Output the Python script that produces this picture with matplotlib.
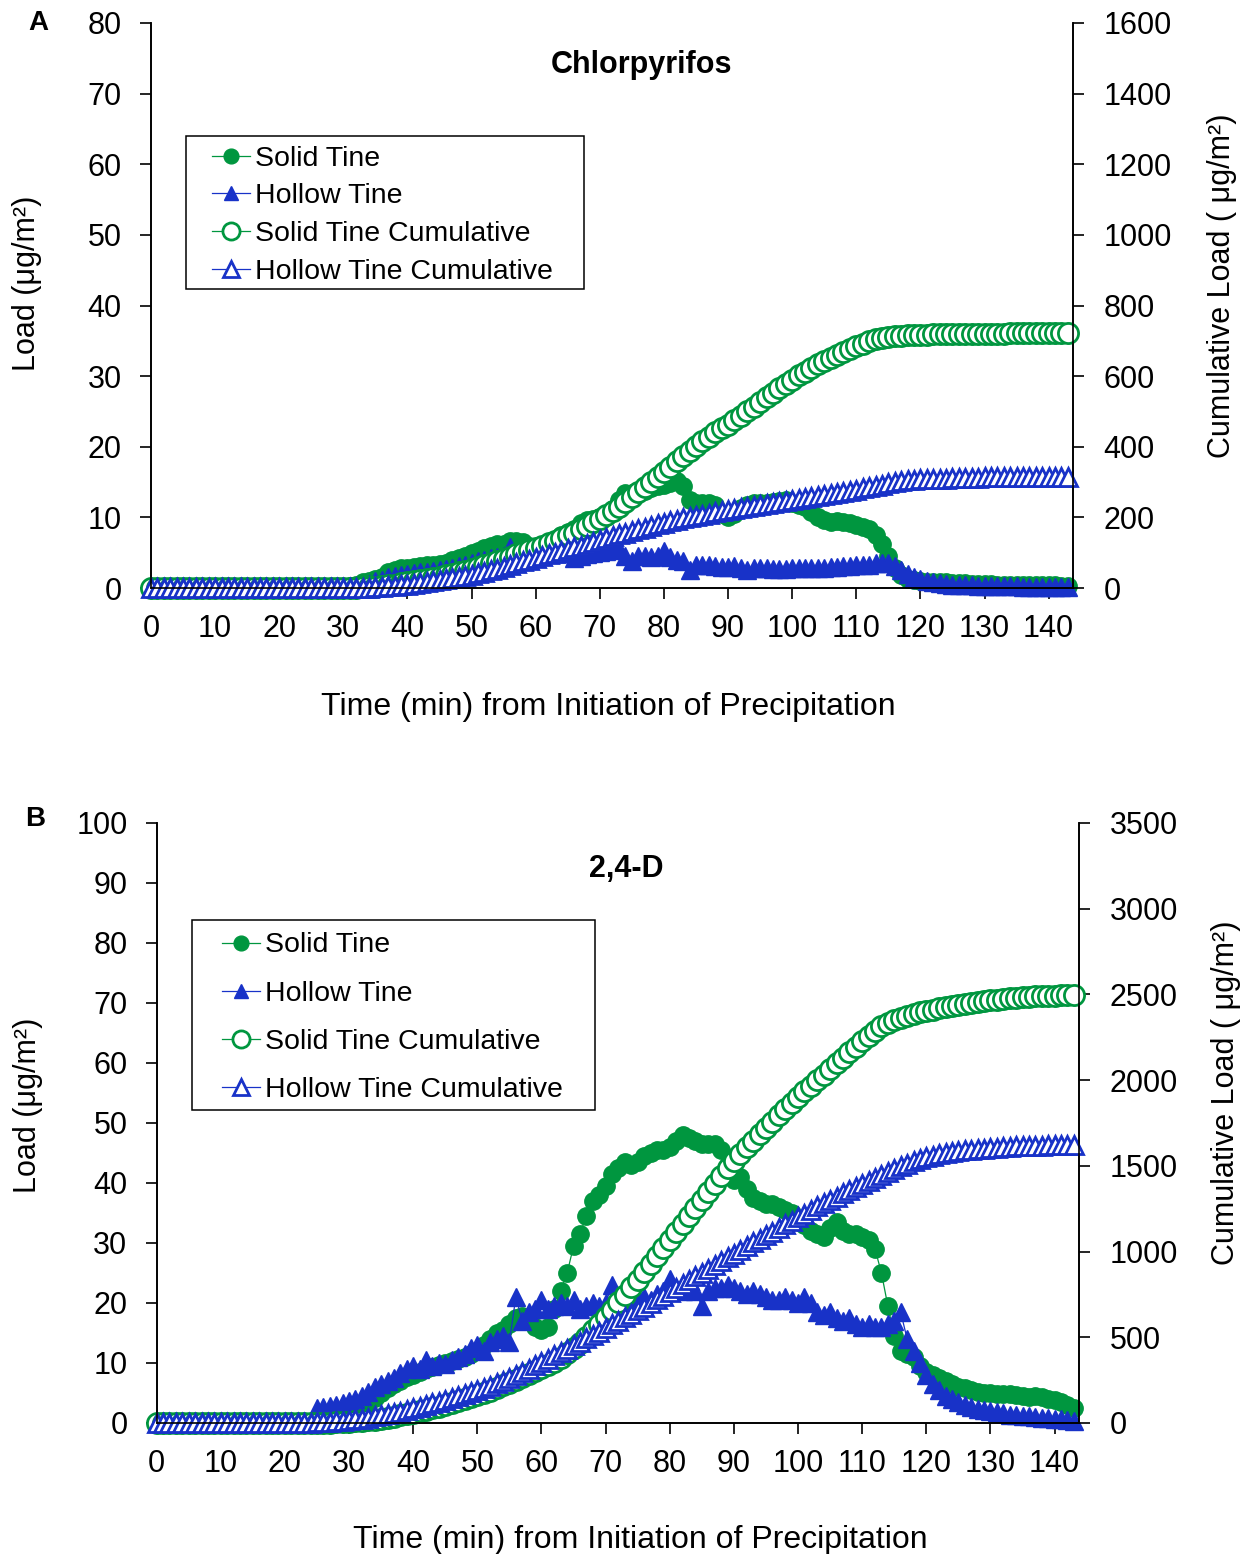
import matplotlib
matplotlib.use('Agg')
import matplotlib.pyplot as plt
from matplotlib.patches import Rectangle

plt.rcParams['font.family'] = ['Liberation Sans', 'DejaVu Sans']

# time (min) from initiation of precipitation, one reading per minute
time = list(range(144))

# ---- panel A : Chlorpyrifos ----
chl_solid = [0, 0, 0, 0, 0, 0, 0, 0, 0, 0,
             0, 0, 0, 0, 0, 0, 0, 0, 0, 0,
             0, 0, 0, 0, 0, 0, 0, 0, 0, 0,
             0.2, 0.3, 0.5, 0.8, 1.0, 1.3, 1.6, 2.2, 2.6, 2.8,
             2.9, 3.0, 3.1, 3.2, 3.3, 3.4, 3.6, 3.9, 4.2, 4.6,
             4.9, 5.3, 5.6, 6.0, 6.2, 6.3, 6.6, 6.7, 6.5, 6.0,
             5.8, 6.0, 6.3, 6.8, 7.5, 8.0, 8.4, 9.2, 9.6, 9.8,
             10.0, 10.5, 11.2, 12.5, 13.4, 13.5, 13.6, 13.8, 14.2, 14.4,
             14.6, 14.9, 15.2, 14.5, 12.5, 12.0, 12.0, 12.1, 11.8, 10.5,
             10.0, 10.5, 11.3, 11.8, 12.0, 12.1, 12.0, 12.2, 12.3, 12.4,
             12.0, 11.8, 11.5, 10.8, 10.0, 9.6, 9.4, 9.5, 9.4, 9.2,
             8.9, 8.7, 8.4, 7.5, 6.2, 4.5, 2.8, 1.8, 1.3, 1.1,
             1.0, 0.9, 0.9, 0.8, 0.8, 0.7, 0.7, 0.7, 0.6, 0.6,
             0.6, 0.6, 0.5, 0.5, 0.5, 0.5, 0.5, 0.4, 0.4, 0.4,
             0.4, 0.4, 0.3, 0.3]
chl_hollow = [0, 0, 0, 0, 0, 0, 0, 0, 0, 0,
              0, 0, 0, 0, 0, 0, 0, 0, 0, 0,
              0, 0, 0, 0, 0, 0, 0, 0, 0, 0,
              0, 0, 0, 0.3, 0.6, 1.0, 1.2, 1.5, 1.7, 1.9,
              2.0, 2.1, 2.2, 2.3, 2.4, 2.5, 2.7, 2.9, 3.1, 3.3,
              3.6, 3.8, 4.0, 4.2, 4.4, 4.5, 5.8, 4.6, 4.5, 4.6,
              4.7, 4.8, 4.9, 5.0, 5.0, 4.9, 4.2, 4.5, 4.8, 5.0,
              5.1, 5.2, 5.4, 5.5, 4.6, 3.8, 4.6, 4.5, 4.4, 4.6,
              5.2, 4.4, 4.0, 3.8, 2.5, 3.2, 3.3, 3.2, 3.1, 3.0,
              3.0, 3.1, 2.9, 2.5, 2.9, 2.8, 2.8, 2.7, 2.7, 2.7,
              2.8, 2.8, 2.8, 2.8, 2.9, 2.9, 3.0, 3.0, 3.1, 3.1,
              3.2, 3.3, 3.3, 3.5, 3.6, 3.5, 3.1, 2.6, 2.0, 1.6,
              1.3, 1.0, 0.8, 0.7, 0.6, 0.5, 0.45, 0.4, 0.4, 0.35,
              0.35, 0.3, 0.3, 0.3, 0.25, 0.25, 0.2, 0.2, 0.2, 0.15,
              0.15, 0.1, 0.1, 0.1]
chl_solid_cum = [0, 0, 0, 0, 0, 0, 0, 0, 0, 0,
                 0, 0, 0, 0, 0, 0, 0, 0, 0, 0,
                 0, 0, 0, 0, 0, 0, 0, 0, 0, 0,
                 0, 0, 1, 2, 3, 4, 6, 8, 10, 13,
                 16, 19, 22, 26, 29, 32, 36, 40, 44, 48,
                 53, 59, 64, 70, 76, 83, 89, 96, 103, 109,
                 114, 120, 127, 134, 141, 149, 157, 167, 176, 186,
                 196, 207, 218, 230, 244, 257, 271, 285, 299, 314,
                 329, 344, 360, 375, 389, 402, 415, 428, 441, 452,
                 463, 475, 488, 501, 514, 527, 540, 553, 566, 578,
                 590, 602, 613, 624, 634, 643, 652, 661, 669, 677,
                 685, 692, 699, 705, 709, 712, 714, 715, 716, 716,
                 717, 717, 718, 718, 718, 719, 719, 719, 719, 720,
                 720, 720, 720, 720, 721, 721, 721, 721, 721, 722,
                 722, 722, 722, 722]
chl_hollow_cum = [0, 0, 0, 0, 0, 0, 0, 0, 0, 0,
                  0, 0, 0, 0, 0, 0, 0, 0, 0, 0,
                  0, 0, 0, 0, 0, 0, 0, 0, 0, 0,
                  0, 0, 0, 0, 1, 2, 3, 5, 6, 8,
                  10, 12, 15, 17, 19, 22, 25, 28, 31, 35,
                  38, 42, 46, 51, 55, 60, 66, 71, 76, 80,
                  85, 90, 95, 100, 105, 110, 115, 120, 125, 130,
                  135, 141, 146, 152, 157, 161, 166, 171, 175, 180,
                  185, 190, 194, 198, 201, 204, 208, 211, 214, 217,
                  220, 223, 226, 229, 232, 235, 238, 241, 243, 246,
                  249, 252, 255, 258, 261, 264, 267, 270, 273, 276,
                  279, 283, 286, 290, 293, 297, 300, 303, 305, 306,
                  308, 309, 309, 310, 310, 311, 311, 312, 312, 312,
                  313, 313, 313, 313, 314, 314, 314, 314, 314, 315,
                  315, 315, 315, 315]

# ---- panel B : 2,4-D ----
d24_solid = [0, 0, 0, 0, 0, 0, 0, 0, 0, 0,
             0, 0, 0, 0, 0, 0, 0, 0, 0, 0,
             0, 0, 0, 0, 0, 0, 0.5, 0.8, 1.2, 1.6,
             2.0, 2.5, 3.0, 3.5, 4.2, 5.0, 5.8, 6.5, 7.0, 7.6,
             8.0, 8.5, 9.0, 9.3, 9.6, 10.0, 10.3, 10.6, 11.0, 11.5,
             12.0, 13.0, 14.0, 15.0, 15.5, 16.5, 17.5, 17.8, 17.0, 16.0,
             15.5, 16.0, 19.0, 22.0, 25.0, 29.5, 31.5, 34.5, 37.0, 38.0,
             39.5, 41.5, 42.5, 43.5, 43.0, 43.5, 44.5, 45.0, 45.5, 45.5,
             46.0, 47.0, 48.0, 47.5, 47.0, 46.5, 46.5, 46.5, 45.5, 43.0,
             40.5, 41.0, 39.0, 37.5, 37.0, 36.5, 36.5, 36.0, 35.5, 35.0,
             34.0, 33.0, 32.0, 31.5, 31.0, 32.5, 33.5, 32.0, 31.5, 31.5,
             31.0, 30.5, 29.0, 25.0, 19.5, 14.5, 12.0, 11.5, 11.0, 9.5,
             8.5, 8.0, 7.5, 7.0, 6.5, 6.0, 5.8, 5.5, 5.2, 5.0,
             5.0, 4.8, 4.8, 4.8, 4.6, 4.5, 4.4, 4.5, 4.3, 4.0,
             3.8, 3.5, 3.0, 2.5]
d24_hollow = [0, 0, 0, 0, 0, 0, 0, 0, 0, 0,
              0, 0, 0, 0, 0, 0, 0, 0, 0, 0,
              0, 0, 0, 0, 0, 2.5, 2.6, 2.8, 3.0, 3.3,
              3.6, 4.0, 4.5, 5.2, 6.0, 6.5, 7.0, 7.5, 8.3, 9.0,
              9.5, 9.0, 10.5, 9.5, 10.0, 9.8, 10.5, 11.0, 11.5, 12.5,
              13.0, 12.0, 13.5, 14.0, 14.5, 13.5, 21.0, 17.0, 18.5, 19.0,
              20.5, 19.0, 19.5, 20.0, 19.5, 20.5, 19.0, 19.5, 20.0, 19.5,
              20.0, 23.0, 20.0, 20.5, 21.0, 21.0, 21.0, 20.5, 21.5, 22.0,
              24.0, 22.5, 22.0, 22.5, 22.0, 19.5, 22.0, 22.5, 22.5, 23.0,
              22.5, 22.0, 21.5, 22.0, 21.5, 21.0, 20.5, 20.5, 21.0, 20.5,
              20.0, 21.0, 20.0, 18.5, 18.0, 18.5, 17.5, 17.0, 17.5, 16.5,
              16.0, 16.5, 16.0, 16.0, 16.5, 17.0, 18.5, 14.0, 12.0, 10.0,
              8.0, 6.5, 5.5, 4.5, 4.0, 3.5, 3.0, 2.7, 2.4, 2.2,
              2.0, 1.8, 1.6, 1.4, 1.3, 1.2, 1.1, 1.0, 0.9, 0.8,
              0.7, 0.6, 0.5, 0.4]
d24_solid_cum = [0, 0, 0, 0, 0, 0, 0, 0, 0, 0,
                 0, 0, 0, 0, 0, 0, 0, 0, 0, 0,
                 0, 0, 0, 0, 0, 0, 1, 1, 3, 4,
                 6, 9, 12, 15, 19, 24, 30, 37, 44, 51,
                 59, 68, 77, 86, 96, 106, 116, 127, 138, 149,
                 161, 174, 188, 203, 219, 235, 253, 271, 288, 304,
                 320, 337, 357, 380, 406, 436, 468, 503, 541, 580,
                 620, 662, 705, 749, 793, 837, 882, 927, 973, 1019,
                 1065, 1112, 1160, 1208, 1255, 1302, 1349, 1396, 1442, 1486,
                 1527, 1568, 1608, 1646, 1684, 1721, 1758, 1794, 1830, 1865,
                 1900, 1934, 1967, 1999, 2031, 2064, 2098, 2131, 2163, 2195,
                 2227, 2258, 2288, 2314, 2334, 2349, 2362, 2374, 2385, 2395,
                 2404, 2412, 2420, 2427, 2434, 2440, 2446, 2451, 2456, 2461,
                 2465, 2469, 2473, 2477, 2480, 2483, 2486, 2488, 2490, 2492,
                 2493, 2494, 2495, 2496]
d24_hollow_cum = [0, 0, 0, 0, 0, 0, 0, 0, 0, 0,
                  0, 0, 0, 0, 0, 0, 0, 0, 0, 0,
                  0, 0, 0, 0, 0, 3, 5, 8, 11, 14,
                  18, 22, 26, 32, 38, 44, 51, 59, 67, 76,
                  85, 94, 105, 114, 124, 134, 145, 156, 167, 180,
                  193, 205, 218, 232, 247, 260, 281, 298, 317, 336,
                  356, 375, 395, 415, 434, 455, 474, 493, 513, 533,
                  553, 576, 596, 616, 637, 658, 679, 700, 721, 743,
                  767, 790, 812, 834, 856, 876, 898, 920, 943, 966,
                  988, 1010, 1032, 1054, 1075, 1096, 1117, 1138, 1159, 1180,
                  1201, 1222, 1243, 1263, 1283, 1302, 1321, 1340, 1358, 1376,
                  1394, 1412, 1429, 1446, 1463, 1480, 1498, 1513, 1527, 1539,
                  1550, 1559, 1567, 1574, 1580, 1585, 1590, 1594, 1598, 1601,
                  1604, 1607, 1609, 1611, 1613, 1615, 1616, 1617, 1618, 1619,
                  1620, 1621, 1622, 1623]

x_ticks = list(range(0, 141, 10))
green = '#00963F'
blue = '#1832C8'

fig = plt.figure(figsize=(12.49, 15.54), dpi=100)


def panel(rect, s, h, sc, hc, ymax, cmax, cstep, title, title_xy, box, leg_xy, leg_sp):
    ax = fig.add_axes(rect)
    ax2 = ax.twinx()

    ax.plot(time, s, color=green, lw=0.9, marker='o', ms=12.5, mfc=green, mec=green,
            clip_on=False, label='Solid Tine')
    ax.plot(time, h, color=blue, lw=0.9, marker='^', ms=12.5, mfc=blue, mec=blue,
            clip_on=False, label='Hollow Tine')
    ax2.plot(time, sc, color=green, lw=0.9, marker='o', ms=14.5, mfc='white', mec=green,
             mew=2.0, clip_on=False, label='Solid Tine Cumulative')
    ax2.plot(time, hc, color=blue, lw=0.9, marker='^', ms=13.5, mfc='white', mec=blue,
             mew=2.0, clip_on=False, label='Hollow Tine Cumulative')

    ax.set_xlim(0, 143.8)
    ax.set_ylim(0, ymax)
    ax2.set_ylim(0, cmax)
    ax.set_xticks(x_ticks)
    ax.set_yticks(range(0, ymax + 1, 10))
    ax2.set_yticks(range(0, cmax + 1, cstep))

    for a in (ax, ax2):
        a.spines['top'].set_visible(False)
        for sp in ('left', 'right', 'bottom'):
            a.spines[sp].set_linewidth(1.2)
    ax.tick_params(axis='both', direction='out', length=8, width=1.2, labelsize=22)
    ax.tick_params(axis='x', pad=11)
    ax.tick_params(axis='y', pad=13)
    ax2.tick_params(axis='y', direction='out', length=8, width=1.2, labelsize=22, pad=14)

    ax.text(title_xy[0], title_xy[1], title, transform=ax.transAxes, ha='center',
            va='center', fontsize=22, fontweight='bold')

    ax2.add_patch(Rectangle((box[0], box[1]), box[2], box[3], transform=ax2.transAxes,
                            fill=False, edgecolor='black', lw=1.1, clip_on=False, zorder=5))
    handles = ax.get_lines() + ax2.get_lines()
    ax2.legend(handles=handles, labels=[l.get_label() for l in handles],
               loc='upper left', bbox_to_anchor=leg_xy, borderaxespad=0, borderpad=0,
               frameon=False, fontsize=20.5, handlelength=1.33, handletextpad=0.18,
               labelspacing=leg_sp, markerscale=0.85)
    return ax, ax2


panel([0.1209, 0.6216, 0.7382, 0.3636], chl_solid, chl_hollow, chl_solid_cum,
      chl_hollow_cum, 80, 1600, 200, 'Chlorpyrifos', (0.5325, 0.926),
      (0.038, 0.529, 0.4316, 0.2708), (0.0662, 0.783), 0.41)
panel([0.1254, 0.0843, 0.7385, 0.3861], d24_solid, d24_hollow, d24_solid_cum,
      d24_hollow_cum, 100, 3500, 500, '2,4-D', (0.509, 0.924),
      (0.0384, 0.5217, 0.437, 0.3167), (0.0709, 0.8175), 0.775)

# axis titles and panel letters
fig.text(0.0216, 0.8179, 'Load (μg/m²)', rotation=90, ha='center', va='center', fontsize=22)
fig.text(0.9784, 0.816, 'Cumulative Load ( μg/m²)', rotation=90, ha='center', va='center', fontsize=22)
fig.text(0.4868, 0.545, 'Time (min) from Initiation of Precipitation', ha='center', va='center', fontsize=23)
fig.text(0.0224, 0.289, 'Load (μg/m²)', rotation=90, ha='center', va='center', fontsize=22)
fig.text(0.9816, 0.2967, 'Cumulative Load ( μg/m²)', rotation=90, ha='center', va='center', fontsize=22)
fig.text(0.5124, 0.009, 'Time (min) from Initiation of Precipitation', ha='center', va='center', fontsize=23)
fig.text(0.0304, 0.9852, 'A', ha='center', va='center', fontsize=20, fontweight='bold')
fig.text(0.028, 0.473, 'B', ha='center', va='center', fontsize=20, fontweight='bold')

plt.savefig('out.png', dpi=100, facecolor='white')
